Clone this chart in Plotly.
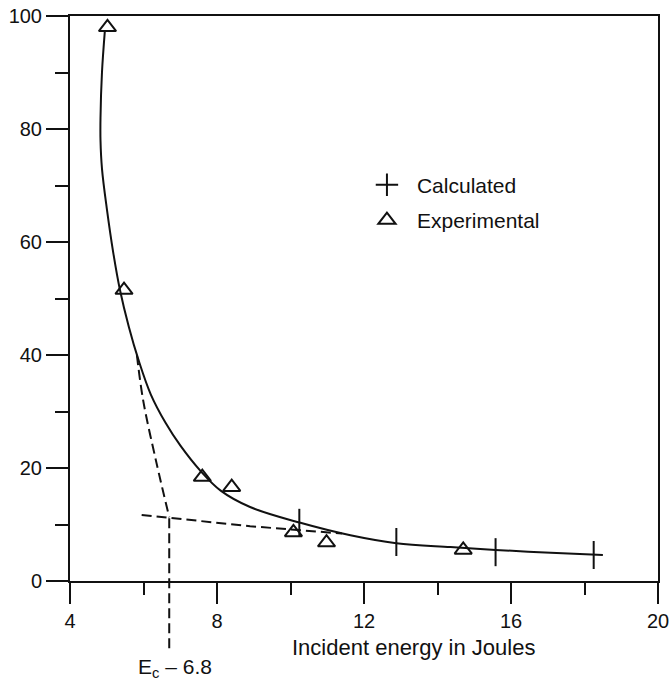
import plotly.graph_objects as go

# Experimental points (triangles)
exp_x = [5.02, 5.47, 7.6, 8.4, 10.08, 10.98, 14.7]
exp_y = [98.0, 51.5, 18.4, 16.6, 8.6, 6.8, 5.5]

# Calculated points (crosses)
calc_x = [10.24, 12.88, 15.58, 18.25]
calc_y = [10.3, 6.9, 5.1, 4.6]

# Fitted solid curve
curve_x = [4.95, 4.87, 4.83, 4.83, 4.87, 5.0, 5.18, 5.36, 5.6, 5.87, 6.2, 6.6, 7.0, 7.55,
           8.1, 8.9, 10.27, 11.63, 12.88, 14.35, 15.58, 17.08, 18.5]
curve_y = [97.5, 90.0, 82.0, 78.0, 73.0, 66.0, 58.0, 51.5, 45.0, 39.0, 33.0, 28.0, 24.0, 19.5,
           16.0, 13.1, 10.3, 8.1, 6.7, 6.0, 5.5, 5.0, 4.6]

# Tangent construction lines (dashed)
steep_x = [5.82, 5.99, 6.35, 6.7]
steep_y = [40.0, 32.0, 21.0, 11.3]
flat_x = [5.95, 8.9, 11.4]
flat_y = [11.7, 9.7, 8.4]

EC_X = 6.7
EC_Y = 11.3
EC_LABEL = "E<sub>c</sub> – 6.8"

x_ticks = [4, 8, 12, 16, 20]
y_ticks = [0, 20, 40, 60, 80, 100]

FONT = "Liberation Sans, Arial, sans-serif"
INK = "#111111"
DASH = "10px,5px"

fig = go.Figure()

fig.add_trace(go.Scatter(x=curve_x, y=curve_y, mode="lines",
                         line=dict(color=INK, width=2, shape="spline", smoothing=1.0),
                         showlegend=False, hoverinfo="skip"))
fig.add_trace(go.Scatter(x=steep_x, y=steep_y, mode="lines",
                         line=dict(color=INK, width=2, dash=DASH, shape="spline"),
                         showlegend=False, hoverinfo="skip"))
fig.add_trace(go.Scatter(x=flat_x, y=flat_y, mode="lines",
                         line=dict(color=INK, width=2, dash=DASH),
                         showlegend=False, hoverinfo="skip"))

# calculated points: vertical ticks sitting on the curve
fig.add_trace(go.Scatter(x=calc_x, y=calc_y, mode="markers", name="Calculated",
                         marker=dict(symbol="line-ns-open", size=20, color=INK,
                                     line=dict(color=INK, width=2)),
                         cliponaxis=False, showlegend=False, legendgroup="a"))
# legend entry for calculated points (plus sign)
fig.add_trace(go.Scatter(x=[None], y=[None], mode="markers", name="Calculated",
                         marker=dict(symbol="cross-thin-open", size=20, color=INK,
                                     line=dict(color=INK, width=2)),
                         legendgroup="a"))
fig.add_trace(go.Scatter(x=exp_x, y=exp_y, mode="markers", name="Experimental",
                         marker=dict(symbol="triangle-up-open", size=15, color=INK,
                                     line=dict(color=INK, width=2)),
                         cliponaxis=False, legendgroup="b"))

# vertical dashed line down to the energy label
fig.add_shape(type="line", xref="x", yref="paper", x0=EC_X, x1=EC_X,
              y0=-0.119, y1=EC_Y / 100.0,
              line=dict(color=INK, width=2, dash=DASH))

fig.add_annotation(x=EC_X, y=-0.154, xref="x", yref="paper", text=EC_LABEL,
                   showarrow=False, xanchor="center", yanchor="middle", xshift=6,
                   font=dict(family=FONT, size=21, color=INK))
fig.add_annotation(x=0.585, y=-0.118, xref="paper", yref="paper",
                   text="Incident energy in Joules", showarrow=False,
                   xanchor="center", yanchor="middle",
                   font=dict(family=FONT, size=22, color=INK))

axis_common = dict(showgrid=False, zeroline=False, showline=True, linecolor=INK,
                   linewidth=2, mirror=True, ticks="outside", tickcolor=INK,
                   tickwidth=2, automargin=False,
                   tickfont=dict(family=FONT, size=20, color=INK))

fig.update_xaxes(range=[4, 20], tickvals=x_ticks, ticklen=21,
                 minor=dict(dtick=2, tick0=4, ticklen=12, tickwidth=2, tickcolor=INK,
                            ticks="outside"),
                 **axis_common)
fig.update_yaxes(range=[0, 100], tickvals=y_ticks, ticklen=22,
                 minor=dict(dtick=10, tick0=0, ticklen=13, tickwidth=2, tickcolor=INK,
                            ticks="outside"),
                 **axis_common)

fig.update_layout(
    width=671, height=678,
    margin=dict(l=70, r=13, t=16, b=97),
    paper_bgcolor="white", plot_bgcolor="white",
    font=dict(family=FONT, size=21, color=INK),
    showlegend=True,
    legend=dict(x=0.488, y=0.737, xanchor="left", yanchor="top",
                bgcolor="rgba(0,0,0,0)", font=dict(family=FONT, size=21, color=INK),
                traceorder="grouped", tracegroupgap=5, itemwidth=50),
)

fig.write_html("out.html")
